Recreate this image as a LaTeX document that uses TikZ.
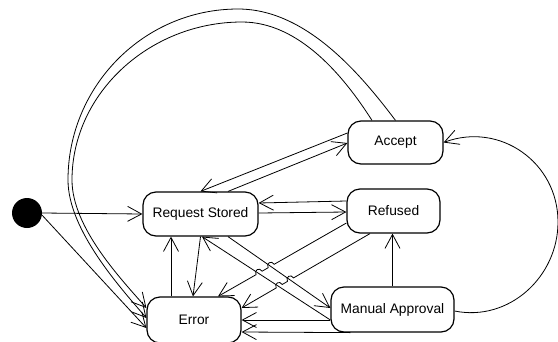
\documentclass[tikz,border=0pt]{standalone}
\usepackage{fontspec}
\setmainfont{Liberation Sans}
\usetikzlibrary{arrows.meta,calc}

\begin{document}
\begin{tikzpicture}[x=1pt,y=-1pt,
  state/.style={draw, line width=1.2pt, rounded corners=13pt, inner sep=0pt,
                font=\fontsize{13.8}{16}\selectfont},
  conn/.style={line width=0.8pt, -{Straight Barb[length=14pt,width=15pt]}},
  startdot/.style={circle, fill=black, minimum size=30pt, inner sep=0pt}]
\useasboundingbox (0,0) rectangle (558,341);
\clip (0,0) rectangle (558,341);

% states
\node[startdot] (init) at (27,213) {};
\node[state, minimum width=115pt, minimum height=44pt] (rs)  at (200.5,214)   {Request Stored};
\node[state, minimum width=94pt,  minimum height=46pt] (err) at (194,320)     {Error};
\node[state, minimum width=95pt,  minimum height=43pt] (acc) at (395.5,142.5) {Accept};
\node[state, minimum width=93pt,  minimum height=44pt] (ref) at (393.5,211)   {Refused};
\node[state, minimum width=123pt, minimum height=45pt] (ma)  at (392.5,309.5) {Manual Approval};

% initial transitions
\draw[conn] (init.east) -- (rs.west);
\draw[conn] (init.-8) -- ([yshift=-8pt]err.west);

% the two long returns from Accept to Error
\draw[conn] (acc.north) .. controls (359,72) and (305,9) .. (238,9)
  .. controls (144,9) and (68,86) .. (68,180)
  .. controls (68,230) and (120.6,288) .. ([yshift=2pt]err.west);
\draw[conn] ([xshift=-23.5pt]acc.north) .. controls (345,78) and (300,22) .. (242,22)
  .. controls (150,22) and (72,93) .. (72,180)
  .. controls (72,228) and (122,280) .. ([yshift=12pt]err.west);

% Request Stored <-> Accept
\draw[conn] ([yshift=9.5pt]acc.west) -- (rs.north);
\draw[conn] ([xshift=27.5pt]rs.north) -- ([yshift=-0.5pt]acc.west);

% Request Stored <-> Refused
\draw[conn] ([yshift=10pt]ref.west) -- ([yshift=11pt]rs.east);
\draw[conn] ([yshift=1pt]rs.east) -- ([yshift=-1pt]ref.west);

% Request Stored <-> Error
\draw[conn] (rs.south) -- ([xshift=-1pt]err.north);
\draw[conn] ([xshift=-23pt]err.north) -- ([xshift=-29.5pt]rs.south);

% Request Stored <-> Manual Approval
\draw[conn] ([xshift=27.5pt]rs.south) -- ([yshift=1.5pt]ma.west);
\draw[conn] ([yshift=-10.5pt]ma.west) -- ([xshift=1.5pt]rs.south);

% Refused -> Error, hopping over the two diagonals
\coordinate (a1) at ([yshift=-12pt]ref.west);
\coordinate (a2) at ([xshift=24pt]err.north);
\coordinate (b1) at ([xshift=-23.5pt]ref.south);
\coordinate (b2) at ([yshift=12pt]err.east);
\draw[conn] (a1) -- ($(a1)!0.5625!(a2)$)
  .. controls +(-2.5,-4.4) and +(-2.5,-4.4) .. ($(a1)!0.6095!(a2)$)
  -- ($(a1)!0.6565!(a2)$)
  .. controls +(-2.5,-4.4) and +(-2.5,-4.4) .. ($(a1)!0.7035!(a2)$)
  -- (a2);
\draw[conn] (b1) -- ($(b1)!0.5955!(b2)$)
  .. controls +(-2.5,-4.4) and +(-2.5,-4.4) .. ($(b1)!0.6425!(b2)$)
  -- ($(b1)!0.6835!(b2)$)
  .. controls +(-2.5,-4.4) and +(-2.5,-4.4) .. ($(b1)!0.7305!(b2)$)
  -- (b2);

% Manual Approval -> Error (two), -> Refused, -> Accept
\draw[conn] ([yshift=-10.5pt]ma.west) -- (err.east);
\draw[conn] ([xshift=20pt]ma.south west) -- ([yshift=-12pt]err.east);
\draw[conn] (ma.north) -- (ma.north |- ref.south);
\draw[conn] ([yshift=-1.5pt]ma.east) .. controls (508.8,322) and (558,277) .. (558,222)
  .. controls (558,162) and (499.4,121.6) .. (acc.east);
\end{tikzpicture}
\end{document}
